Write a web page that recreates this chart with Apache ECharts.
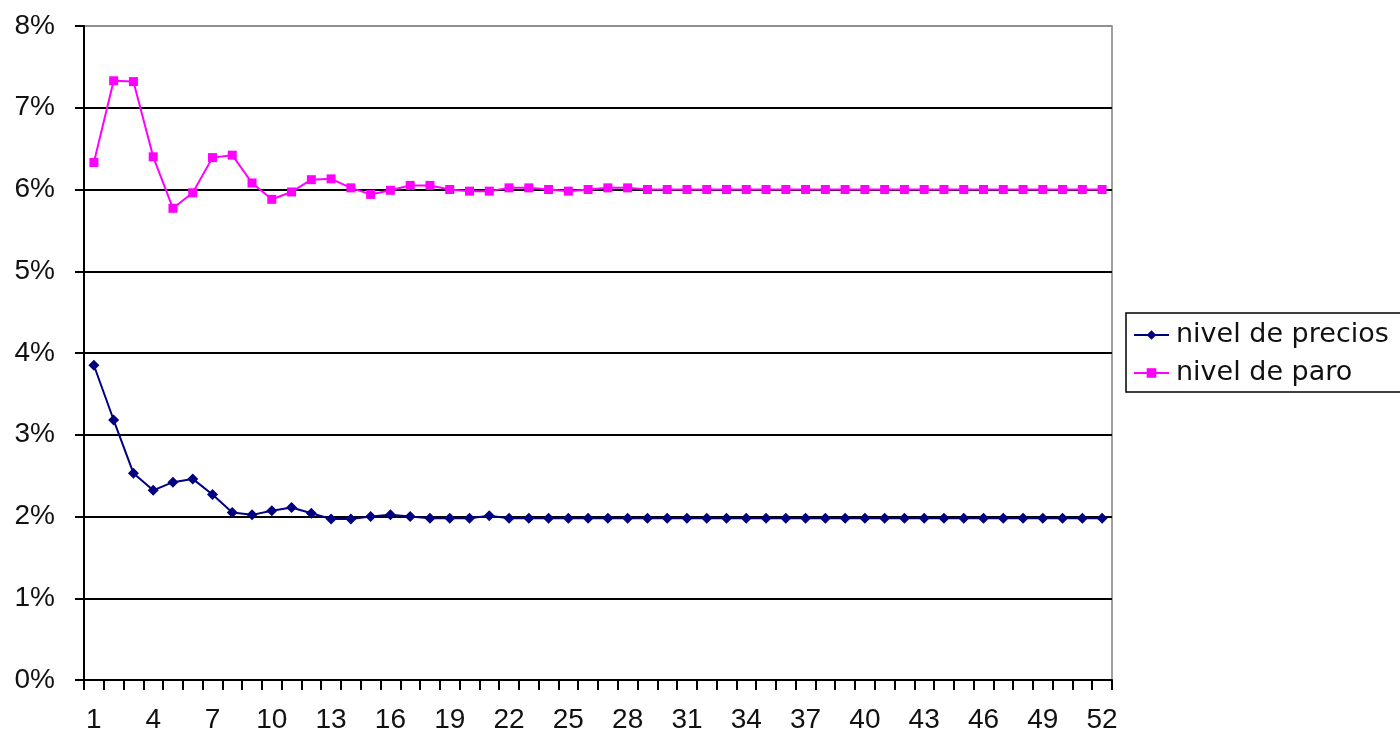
<!DOCTYPE html>
<html>
<head>
<meta charset="utf-8">
<script src="https://cdn.jsdelivr.net/npm/echarts@6/dist/echarts.min.js"></script>
<style>
html,body{margin:0;padding:0;background:#fff;}
#chart{width:1400px;height:736px;}
</style>
</head>
<body>
<div id="chart"></div>
<script>
var categories = [];
for (var i = 1; i <= 52; i++) categories.push(String(i));

var nivelDePrecios = [3.85, 3.18, 2.53, 2.32, 2.42, 2.46, 2.27, 2.05, 2.02, 2.07,
  2.11, 2.04, 1.97, 1.97, 2.00, 2.02, 2.00, 1.98, 1.98, 1.98,
  2.01, 1.98, 1.98, 1.98, 1.98, 1.98, 1.98, 1.98, 1.98, 1.98,
  1.98, 1.98, 1.98, 1.98, 1.98, 1.98, 1.98, 1.98, 1.98, 1.98,
  1.98, 1.98, 1.98, 1.98, 1.98, 1.98, 1.98, 1.98, 1.98, 1.98,
  1.98, 1.98];

var nivelDeParo = [6.33, 7.33, 7.32, 6.40, 5.77, 5.96, 6.39, 6.42, 6.08, 5.88,
  5.97, 6.12, 6.13, 6.02, 5.94, 5.99, 6.05, 6.05, 6.00, 5.98,
  5.98, 6.02, 6.02, 6.00, 5.98, 6.00, 6.02, 6.02, 6.00, 6.00,
  6.00, 6.00, 6.00, 6.00, 6.00, 6.00, 6.00, 6.00, 6.00, 6.00,
  6.00, 6.00, 6.00, 6.00, 6.00, 6.00, 6.00, 6.00, 6.00, 6.00,
  6.00, 6.00];

var seriesNames = ['nivel de precios', 'nivel de paro'];

var chart = echarts.init(document.getElementById('chart'), null, {renderer: 'canvas'});
chart.setOption({
  animation: false,
  backgroundColor: '#ffffff',
  grid: {
    left: 84, right: 288, top: 26, bottom: 56,
    show: true, borderColor: '#808080', borderWidth: 1.5, backgroundColor: '#ffffff'
  },
  legend: {
    orient: 'vertical',
    left: 1126, top: 313,
    padding: [7, 80, 4, 7],
    itemGap: 8,
    itemWidth: 35, itemHeight: 12,
    borderColor: '#000000', borderWidth: 1.5,
    textStyle: {fontFamily: 'DejaVu Sans', fontSize: 27, color: '#111', lineHeight: 30, padding: [0, 0, 0, 2]},
    data: seriesNames
  },
  xAxis: {
    type: 'category',
    data: categories,
    boundaryGap: true,
    axisLine: {lineStyle: {color: '#000', width: 2}},
    axisTick: {show: true, interval: 0, length: 10, lineStyle: {color: '#000', width: 2}},
    axisLabel: {interval: 2, margin: 26, color: '#111', fontFamily: 'Liberation Sans', fontSize: 28},
    splitLine: {show: false}
  },
  yAxis: {
    type: 'value',
    min: 0, max: 8, interval: 1,
    axisLine: {show: true, lineStyle: {color: '#000', width: 2}},
    axisTick: {show: true, length: 9, lineStyle: {color: '#000', width: 2}},
    axisLabel: {formatter: '{value}%', margin: 29, color: '#111', fontFamily: 'Liberation Sans', fontSize: 28},
    splitLine: {show: true, lineStyle: {color: ['#000','#000','#000','#000','#000','#000','#000','#000','#909090'], width: 2}}
  },
  series: [
    {
      name: seriesNames[0], type: 'line', data: nivelDePrecios,
      symbol: 'diamond', symbolSize: 11,
      itemStyle: {color: '#000080'},
      lineStyle: {color: '#000080', width: 2}
    },
    {
      name: seriesNames[1], type: 'line', data: nivelDeParo,
      symbol: 'rect', symbolSize: 9,
      itemStyle: {color: '#ff00ff'},
      lineStyle: {color: '#ff00ff', width: 2}
    }
  ]
});
</script>
</body>
</html>
